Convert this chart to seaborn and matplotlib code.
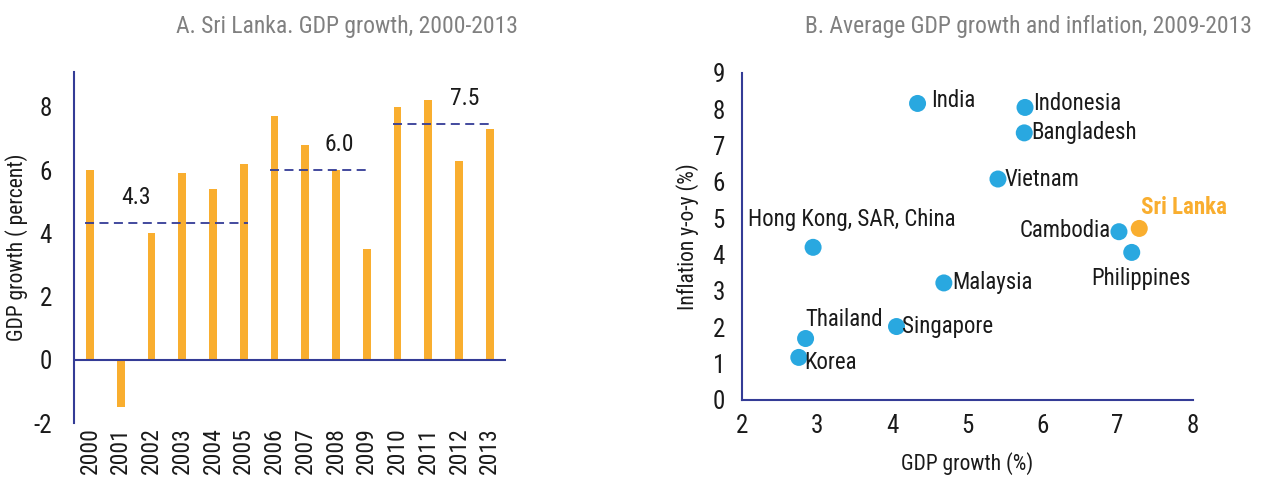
import matplotlib
matplotlib.use("Agg")
import matplotlib.pyplot as plt
import seaborn as sns
import numpy as np
import pandas as pd

# data for panel A
years = ['2000', '2001', '2002', '2003', '2004', '2005', '2006',
         '2007', '2008', '2009', '2010', '2011', '2012', '2013']
growth = [6.0, -1.5, 4.0, 5.9, 5.4, 6.2, 7.7, 6.8, 6.0, 3.5, 8.0, 8.2, 6.3, 7.3]
period_start = ['2000', '2006', '2010']
period_end = ['2005', '2009', '2013']
period_avg = [4.33, 6.0, 7.45]
period_label = ['4.3', '6.0', '7.5']

# data for panel B
countries = ['India', 'Indonesia', 'Bangladesh', 'Vietnam', 'Hong Kong, SAR, China',
             'Cambodia', 'Sri Lanka', 'Philippines', 'Malaysia', 'Singapore',
             'Thailand', 'Korea']
gdp_avg = [4.34, 5.77, 5.76, 5.41, 2.95, 7.02, 7.29, 7.19, 4.69, 4.06, 2.85, 2.76]
inflation = [8.16, 8.05, 7.35, 6.08, 4.20, 4.63, 4.72, 4.06, 3.22, 2.02, 1.69, 1.17]

sns.set_style("white")
plt.rcParams['font.family'] = ['Roboto Condensed', 'DejaVu Sans']
plt.rcParams['axes.unicode_minus'] = False

orange = '#F9AE2F'
blue = '#29A8E0'
navy = '#343C96'
grey = '#808080'
txt = '#1a1a1a'

fig = plt.figure(figsize=(12.81, 4.83), dpi=100)
ax1 = fig.add_axes([0.0578, 0.124, 0.337, 0.727])
ax2 = fig.add_axes([0.579, 0.172, 0.352, 0.677])

# %% panel A
sns.barplot(x=years, y=growth, color=orange, width=0.25, saturation=1,
            linewidth=0, ax=ax1)
ax1.axhline(0, color=navy, lw=1.5)
label_x = [1.5, 8.1, 12.2]
for s, e, avg, lab, lx in zip(period_start, period_end, period_avg, period_label, label_x):
    i0, i1 = years.index(s), years.index(e)
    ax1.plot([i0 - 0.15, i1 + 0.15], [avg, avg], color=navy, lw=1.3,
             dashes=(5, 3))
    ax1.text(lx, avg + 0.8, lab, ha='center', va='center', fontsize=17, color=txt)
ax1.set_xlim(-0.52, 13.52)
ax1.set_ylim(-2, 9.1)
ax1.set_yticks([-2, 0, 2, 4, 6, 8])
ax1.tick_params(axis='x', labelrotation=90, labelsize=17, length=0, pad=3, colors=txt)
ax1.tick_params(axis='y', labelsize=18, length=0, pad=16, colors=txt)
ax1.set_ylabel('GDP growth ( percent)', fontsize=15.5, color=txt, labelpad=4)
for sp in ['top', 'right', 'bottom']:
    ax1.spines[sp].set_visible(False)
ax1.spines['left'].set_color(navy)
ax1.spines['left'].set_linewidth(1.5)
fig.text(347 / 1281, 1 - 27 / 483, 'A. Sri Lanka. GDP growth, 2000-2013', color=grey,
         fontsize=17, ha='center', va='center')

# %% panel B
df = pd.DataFrame({'country': countries, 'gdp': gdp_avg, 'inf': inflation})
df['hl'] = np.where(df['country'] == 'Sri Lanka', 'sl', 'other')
sns.scatterplot(data=df, x='gdp', y='inf', hue='hl', palette={'other': blue, 'sl': orange},
                s=150, edgecolor='none', legend=False, ax=ax2, zorder=3)

# label placement: (dx, dy) in points, ha
offsets = {
    'India': (10, 2, 'left'),
    'Indonesia': (6, 3, 'left'),
    'Bangladesh': (5, 0, 'left'),
    'Vietnam': (5, 0, 'left'),
    'Hong Kong, SAR, China': (-47, 20, 'left'),
    'Cambodia': (-6, 1, 'right'),
    'Sri Lanka': (1, 15, 'left'),
    'Philippines': (7, -19, 'center'),
    'Malaysia': (6, 0, 'left'),
    'Singapore': (4, 0, 'left'),
    'Thailand': (0, 14, 'left'),
    'Korea': (4, -4, 'left'),
}
for c, x, y in zip(countries, gdp_avg, inflation):
    dx, dy, ha = offsets[c]
    if c == 'Sri Lanka':
        ax2.annotate(c, (x, y), xytext=(dx, dy), textcoords='offset points', ha=ha,
                     va='center', fontsize=16.5, color=orange, fontweight='bold')
    else:
        ax2.annotate(c, (x, y), xytext=(dx, dy), textcoords='offset points', ha=ha,
                     va='center', fontsize=16.5, color=txt)
ax2.set_xlim(2, 8)
ax2.set_ylim(0, 9)
ax2.set_xticks(range(2, 9))
ax2.set_yticks(range(0, 10))
ax2.tick_params(labelsize=18, length=0, colors=txt)
ax2.tick_params(axis='x', pad=10)
ax2.tick_params(axis='y', pad=12)
ax2.set_xlabel('GDP growth (%)', fontsize=15.5, labelpad=10, color=txt)
ax2.set_ylabel('Inflation y-o-y (%)', fontsize=15.5, labelpad=10, color=txt)
for sp in ['top', 'right']:
    ax2.spines[sp].set_visible(False)
for sp in ['left', 'bottom']:
    ax2.spines[sp].set_color(navy)
    ax2.spines[sp].set_linewidth(1.5)
fig.text(1028 / 1281, 1 - 27 / 483, 'B. Average GDP growth and inflation, 2009-2013', color=grey,
         fontsize=17, ha='center', va='center')

fig.savefig('out.png', dpi=100)
